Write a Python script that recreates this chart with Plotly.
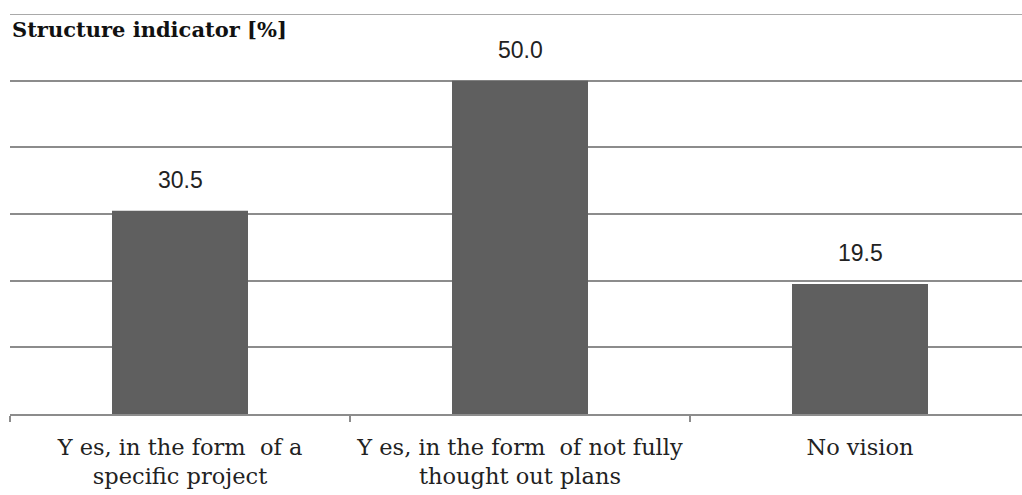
import plotly.graph_objects as go

categories = [
    "Y es, in the form  of a<br>specific project",
    "Y es, in the form  of not fully<br>thought out plans",
    "No vision",
]
values = [30.5, 50.0, 19.5]
value_labels = ["30.5", "50.0", "19.5"]

SERIF = "DejaVu Serif"
SANS = "Liberation Sans"
GRID = "#8c8c8c"

fig = go.Figure()
fig.add_trace(go.Bar(
    x=categories,
    y=values,
    marker=dict(color="#5f5f5f", line=dict(width=0)),
    width=0.4,
    hoverinfo="skip",
))

for cat, val, lab in zip(categories, values, value_labels):
    fig.add_annotation(
        x=cat, y=val, text=lab, showarrow=False,
        yanchor="bottom", yshift=16,
        font=dict(family=SANS, size=23, color="#222222"),
    )

fig.add_annotation(
    xref="paper", yref="paper", x=0, y=1,
    xanchor="left", yanchor="top", yshift=-1,
    text="<b>Structure indicator [%]</b>", showarrow=False,
    font=dict(family=SERIF, size=21, color="#111111"),
)

# top border line at the range maximum
fig.add_shape(
    type="line", xref="paper", yref="y", x0=0, x1=1, y0=60, y1=60,
    line=dict(color=GRID, width=1.5),
)

fig.update_layout(
    width=1022, height=495,
    margin=dict(l=10, r=0, t=14, b=81),
    paper_bgcolor="white", plot_bgcolor="white",
    showlegend=False,
    bargap=0.6,
)
fig.update_xaxes(
    range=[-0.5, -0.5 + 1012 / 340],
    tickson="boundaries", ticks="outside", ticklen=6, tickcolor=GRID, tickwidth=1.5,
    showline=True, linecolor=GRID, linewidth=1.5,
    tickfont=dict(family=SERIF, size=22.5, color="#222222"),
    ticklabelstandoff=12,
    showgrid=False,
)
fig.update_yaxes(
    range=[0, 60], dtick=10,
    showgrid=True, gridcolor=GRID, gridwidth=1.5,
    showticklabels=False, zeroline=False,
)

fig.write_html("out.html")
